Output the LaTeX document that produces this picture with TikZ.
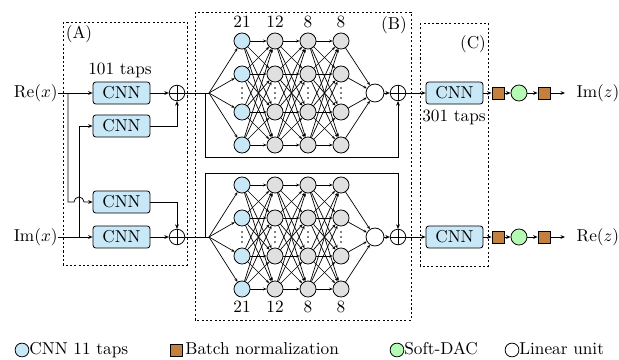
\documentclass[tikz,border=0pt]{standalone}
\usetikzlibrary{arrows.meta,calc}
\definecolor{cnnblue}{RGB}{200,232,248}
\definecolor{nngray}{RGB}{224,224,224}
\definecolor{bnbrown}{RGB}{196,128,62}
\definecolor{dacgreen}{RGB}{180,250,180}
\begin{document}
\begin{tikzpicture}[x=0.58pt,y=-0.58pt,
  >={Stealth[length=2.6pt,width=2.2pt]},
  line width=0.45pt,
  every node/.style={inner sep=0pt},
  cnn/.style={draw, rounded corners=1.6pt, fill=cnnblue, minimum width=33pt, minimum height=12.8pt},
  nn/.style={circle, draw, minimum size=9.3pt},
  nnedge/.style={-{Stealth[length=2pt,width=1.6pt]}, line width=0.4pt},
  sumnode/.style={circle, draw, minimum size=9pt, fill=white,
    path picture={\draw (path picture bounding box.north) -- (path picture bounding box.south)
                        (path picture bounding box.west) -- (path picture bounding box.east);}},
  linunit/.style={circle, draw, fill=white, minimum size=10.4pt},
  bn/.style={rectangle, draw, fill=bnbrown, minimum size=7pt},
  dac/.style={circle, draw, fill=dacgreen, minimum size=9.3pt},
  frame/.style={draw, dash pattern=on 1.2pt off 1.3pt},
  legtext/.style={anchor=west, text height=6.8pt, text depth=1.9pt},
  outlabel/.style={anchor=west, inner xsep=6.5pt},
  dotmark/.style={circle, fill, minimum size=1.1pt},
]
\useasboundingbox (0,0) rectangle (619,360);

% frames
\draw[frame] (63,22) rectangle (187,265);
\draw[frame] (195,12) rectangle (411,320);
\draw[frame] (420,23) rectangle (488,266);
\node (labA) at (79,34) {(A)};
\node (labB) at (394,25) {(B)};
\node (labC) at (473,44) {(C)};

% block A
\node[anchor=east] (rex) at (58,93) {$\mathrm{Re}(x)$};
\node[anchor=east] (imx) at (58,237) {$\mathrm{Im}(x)$};
\node[cnn] (a1) at (121.5,93) {CNN};
\node[cnn] (a2) at (121.5,126) {CNN};
\node[cnn] (a3) at (121.5,202) {CNN};
\node[cnn] (a4) at (121.5,237) {CNN};
\node (taps1) at (120,70) {101 taps};
\node[sumnode] (s1) at (177,93) {};
\node[sumnode] (s2) at (177,237) {};
\coordinate (j1) at (68,93);
\coordinate (j2) at (79,237);
\draw[->] (rex) -- (a1);
\draw[->] (imx) -- (a4);
\draw[->] (j1) -- (68,202) -- (74,202) arc[start angle=180,end angle=0,radius=2.9pt] -- (a3.west);
\draw[->] (j2) |- (a2);
\draw[->] (a1) -- (s1);
\draw[->] (a2) -| (s1);
\draw[->] (a3) -| (s2);
\draw[->] (a4) -- (s2);

% block B: two networks
\foreach \net/\cy in {T/93,B/237}{
  \foreach \l/\lx/\col in {1/242/cnnblue,2/275/nngray,3/308/nngray,4/341/nngray}{
    \foreach \r/\dy in {1/-52,2/-19,3/19,4/52}{
      \node[nn, fill=\col] (\net\l\r) at ({\lx},{\cy+(\dy)}) {};
    }
  }
  \coordinate (\net fan) at (209,\cy);
  \coordinate (\net sk) at (205,\cy);
  \node[linunit] (\net lin) at (375,\cy) {};
  \node[sumnode] (\net add) at (398,\cy) {};
  \foreach \r in {1,2,3,4}{
    \draw[nnedge] (\net fan) -- (\net1\r);
    \draw[nnedge] (\net4\r) -- (\net lin);
  }
  \foreach \l in {1,2,3}{
    \pgfmathtruncatemacro{\nx}{\l+1}
    \foreach \a in {1,2,3,4}{
      \foreach \b in {1,2,3,4}{
        \draw[nnedge] (\net\l\a) -- (\net\nx\b);
      }
    }
  }
  \foreach \l/\lx in {1/242,2/275,3/308,4/341}{
    \foreach \k/\dd in {a/-5,b/0,c/5}{
      \node[dotmark] (\net dot\l\k) at ({\lx},{\cy+(\dd)}) {};
    }
  }
  \draw[->] (\net lin) -- (\net add);
}
\draw (s1) -- (Tfan);
\draw (s2) -- (Bfan);
\draw[->] (Tsk) -- (205,157) -| (Tadd);
\draw[->] (Bsk) -- (205,173) -| (Badd);

% layer sizes
\foreach \lx/\t [count=\i] in {242/21,275/12,308/8,341/8}{
  \node (top\i) at (\lx,22) {\t};
  \node (bot\i) at (\lx,307) {\t};
}

% block C and outputs
\foreach \n/\cy/\lab in {1/93/{$\mathrm{Im}(z)$},2/237/{$\mathrm{Re}(z)$}}{
  \node[cnn] (c\n) at (454.5,\cy) {CNN};
  \node[bn] (bna\n) at (498,\cy) {};
  \node[dac] (dac\n) at (519,\cy) {};
  \node[bn] (bnb\n) at (544,\cy) {};
  \node[outlabel] (out\n) at (565,\cy) {\lab};
  \draw[->] (c\n) -- (bna\n);
  \draw[->] (bna\n) -- (dac\n);
  \draw[->] (dac\n) -- (bnb\n);
  \draw[->] (bnb\n) -- (out\n);
}
\draw[->] (Tadd) -- (c1);
\draw[->] (Badd) -- (c2);
\node (taps3) at (454,117) {301 taps};

% legend
\node[circle, draw, fill=cnnblue, minimum size=8pt] (lg1) at (22,350) {};
\node[legtext] (lt1) at (29,350) {CNN 11 taps};
\node[bn] (lg2) at (176,350) {};
\node[legtext] (lt2) at (185,350) {Batch normalization};
\node[circle, draw, fill=dacgreen, minimum size=8pt] (lg3) at (397,350) {};
\node[legtext] (lt3) at (404,350) {Soft-DAC};
\node[circle, draw, fill=white, minimum size=8pt] (lg4) at (512,350) {};
\node[legtext] (lt4) at (519,350) {Linear unit};
\end{tikzpicture}
\end{document}
